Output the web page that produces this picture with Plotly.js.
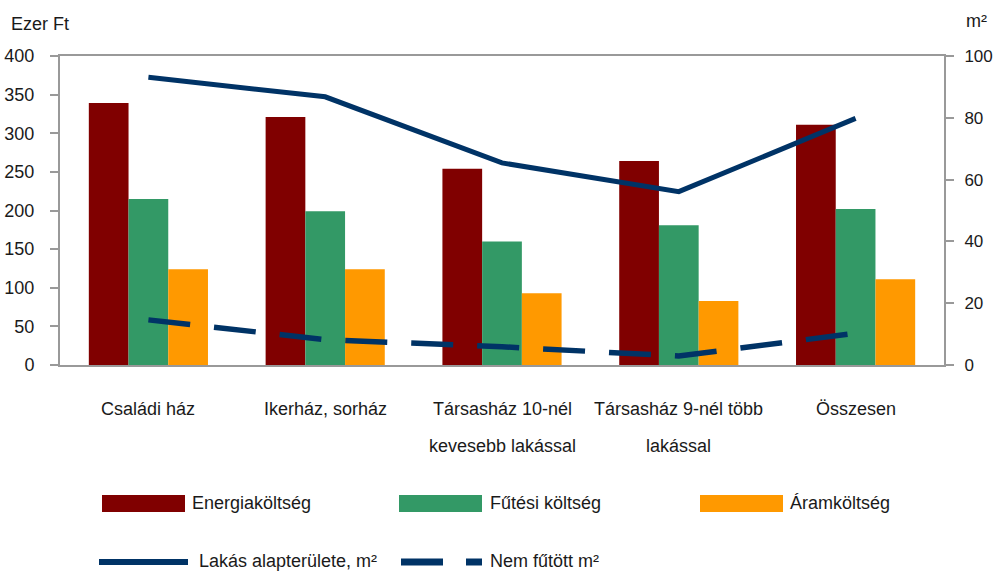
<!DOCTYPE html>
<html>
<head>
<meta charset="utf-8">
<script src="https://cdn.plot.ly/plotly-3.0.1.min.js"></script>
<style>html,body{margin:0;padding:0;background:#fff;}#chart{width:994px;height:571px;}</style>
</head>
<body>
<div id="chart"></div>
<script>
const categories = ["Családi ház", "Ikerház, sorház", "Társasház 10-nél", "Társasház 9-nél több", "Összesen"];
const secondLines = ["", "", "kevesebb lakással", "lakással", ""];
const energia = [339, 321, 254, 264, 311];
const futesi = [215, 199, 160, 181, 202];
const aram = [124, 124, 93, 83, 111];
const alapterulet = [93.1, 86.8, 65.4, 56.1, 79.8];
const nemFutott = [14.6, 8.2, 5.9, 2.9, 10.3];
const leftTicks = [0, 50, 100, 150, 200, 250, 300, 350, 400];
const rightTicks = [0, 20, 40, 60, 80, 100];

const FONT = "Liberation Sans, Arial, sans-serif";
const TXT = "#1a1a1a";
const C_EN = "#800000", C_FU = "#339966", C_AR = "#FF9900", C_LN = "#003366";

const traces = [
  {type:"bar", x:categories, y:energia, name:"Energiaköltség", marker:{color:C_EN}, showlegend:false, hoverinfo:"y"},
  {type:"bar", x:categories, y:futesi, name:"Fűtési költség", marker:{color:C_FU}, showlegend:false, hoverinfo:"y"},
  {type:"bar", x:categories, y:aram, name:"Áramköltség", marker:{color:C_AR}, showlegend:false, hoverinfo:"y"},
  {type:"scatter", mode:"lines", x:categories, y:alapterulet, yaxis:"y2", name:"Lakás alapterülete, m²", line:{color:C_LN, width:5}, showlegend:false},
  {type:"scatter", mode:"lines", x:categories, y:nemFutott, yaxis:"y2", name:"Nem fűtött m²", line:{color:C_LN, width:5.5, dash:"42px,24px"}, showlegend:false}
];

function py(px){ return (365 - px) / 309; }
function pxX(px){ return (px - 60) / 884; }

const annotations = [];
categories.forEach((c, i) => {
  annotations.push({x:c, xref:"x", y:py(409), yref:"paper", text:c, showarrow:false, xanchor:"center", yanchor:"middle", font:{family:FONT, size:18, color:TXT}});
  if (secondLines[i]) annotations.push({x:c, xref:"x", y:py(446), yref:"paper", text:secondLines[i], showarrow:false, xanchor:"center", yanchor:"middle", font:{family:FONT, size:18, color:TXT}});
});
annotations.push({x:pxX(9), xref:"paper", y:py(24), yref:"paper", text:"Ezer Ft", showarrow:false, xanchor:"left", yanchor:"middle", font:{family:FONT, size:18, color:TXT}});
annotations.push({x:pxX(989), xref:"paper", y:py(21), yref:"paper", text:"m²", showarrow:false, xanchor:"right", yanchor:"middle", font:{family:FONT, size:18, color:TXT}});

const legendItems = [
  {label:traces[0].name, tx:190, ty:503},
  {label:traces[1].name, tx:488, ty:503},
  {label:traces[2].name, tx:788, ty:503},
  {label:traces[3].name, tx:197, ty:561},
  {label:traces[4].name, tx:488, ty:561}
];
legendItems.forEach(it => {
  annotations.push({x:pxX(it.tx), xref:"paper", y:py(it.ty), yref:"paper", text:it.label, showarrow:false, xanchor:"left", yanchor:"middle", font:{family:FONT, size:18, color:TXT}});
});

const shapes = [
  {type:"rect", xref:"paper", yref:"paper", x0:pxX(102), x1:pxX(185), y0:py(512), y1:py(495), fillcolor:C_EN, line:{width:0}},
  {type:"rect", xref:"paper", yref:"paper", x0:pxX(399), x1:pxX(482), y0:py(512), y1:py(495), fillcolor:C_FU, line:{width:0}},
  {type:"rect", xref:"paper", yref:"paper", x0:pxX(700), x1:pxX(783), y0:py(512), y1:py(495), fillcolor:C_AR, line:{width:0}},
  {type:"line", xref:"paper", yref:"paper", x0:pxX(99), x1:pxX(188), y0:py(562), y1:py(562), line:{color:C_LN, width:6}},
  {type:"line", xref:"paper", yref:"paper", x0:pxX(401), x1:pxX(443), y0:py(562), y1:py(562), line:{color:C_LN, width:7}},
  {type:"line", xref:"paper", yref:"paper", x0:pxX(466), x1:pxX(482), y0:py(562), y1:py(562), line:{color:C_LN, width:7}}
];

const layout = {
  width:994, height:571,
  margin:{l:60, r:50, t:56, b:206, pad:0},
  paper_bgcolor:"#fff", plot_bgcolor:"#fff",
  barmode:"group", bargap:0.326, bargroupgap:0,
  showlegend:false,
  font:{family:FONT, size:18, color:TXT},
  xaxis:{type:"category", showticklabels:false, ticks:"", showline:true, linecolor:"#999", linewidth:2, mirror:true, showgrid:false, zeroline:false, fixedrange:true},
  yaxis:{range:[0,400], tickvals:leftTicks, ticktext:leftTicks.map(String), ticks:"outside", ticklen:8, tickwidth:2, tickcolor:"#999", showline:true, linecolor:"#999", linewidth:2, showgrid:false, zeroline:false, ticklabelstandoff:12, tickfont:{family:FONT, size:18, color:TXT}},
  yaxis2:{range:[0,100], overlaying:"y", side:"right", tickvals:rightTicks, ticktext:rightTicks.map(String), ticks:"outside", ticklen:8, tickwidth:2, tickcolor:"#999", showline:true, linecolor:"#999", linewidth:2, showgrid:false, zeroline:false, ticklabelstandoff:7, tickfont:{family:FONT, size:17, color:TXT}},
  annotations:annotations,
  shapes:shapes
};

Plotly.newPlot("chart", traces, layout, {displayModeBar:false, staticPlot:true});
</script>
</body>
</html>
